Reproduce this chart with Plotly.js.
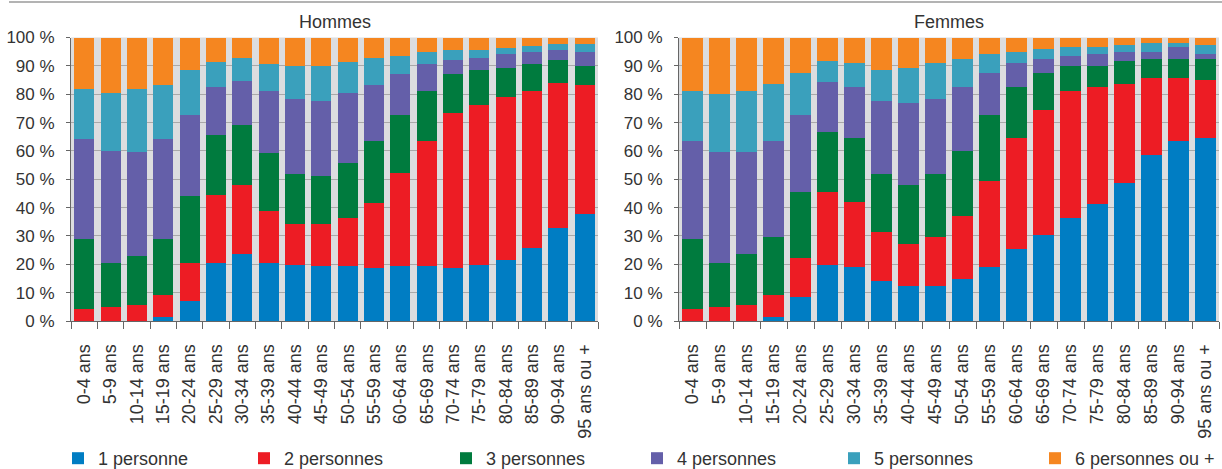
<!DOCTYPE html>
<html>
<head>
<meta charset="utf-8">
<script src="https://cdn.plot.ly/plotly-3.0.1.min.js"></script>
<style>html,body{margin:0;padding:0;background:#fff;}#chart{width:1222px;height:469px;}</style>
</head>
<body>
<div id="chart"></div>
<script>
const categories = ["0-4 ans","5-9 ans","10-14 ans","15-19 ans","20-24 ans","25-29 ans","30-34 ans","35-39 ans","40-44 ans","45-49 ans","50-54 ans","55-59 ans","60-64 ans","65-69 ans","70-74 ans","75-79 ans","80-84 ans","85-89 ans","90-94 ans","95 ans ou +"];
const seriesNames = ["1 personne","2 personnes","3 personnes","4 personnes","5 personnes","6 personnes ou +"];
const yTickVals = [0,10,20,30,40,50,60,70,80,90,100];
const yTickText = ["0 %","10 %","20 %","30 %","40 %","50 %","60 %","70 %","80 %","90 %","100 %"];

// Hommes
const hommes1 = [0,0,0,1.4,7.2,20.6,23.5,20.6,19.9,19.3,19.3,18.6,19.3,19.3,18.6,19.9,21.4,25.7,32.9,37.8];
const hommes2 = [4.2,4.9,5.8,7.9,13.4,23.7,24.3,18.1,14.4,15.0,17.1,22.9,32.8,44.2,54.8,56.4,57.7,55.5,51.1,45.5];
const hommes3 = [24.9,15.5,17.0,19.8,23.6,21.3,21.3,20.4,17.6,16.9,19.2,22.0,20.6,17.7,13.6,12.1,10.0,9.3,7.9,6.5];
const hommes4 = [35.1,39.5,36.9,35.1,28.5,17.0,15.7,22.1,26.5,26.5,24.9,19.8,14.3,9.3,5.0,4.3,5.0,4.4,3.6,5.0];
const hommes5 = [17.7,20.6,22.2,19.1,15.7,8.6,7.9,9.4,11.4,12.1,10.7,9.3,6.4,4.4,3.5,2.8,2.3,2.2,2.3,3.0];
const hommes6 = [18.1,19.5,18.1,16.7,11.6,8.8,7.3,9.4,10.2,10.2,8.8,7.4,6.6,5.1,4.5,4.5,3.6,2.9,2.2,2.2];

// Femmes
const femmes1 = [0,0,0,1.5,8.3,19.8,19.0,14.0,12.4,12.4,14.8,18.9,25.4,30.4,36.3,41.3,48.7,58.6,63.5,64.5];
const femmes2 = [4.1,4.9,5.7,7.6,14.1,25.7,23.1,17.5,14.9,17.3,22.4,30.6,39.1,44.0,44.7,41.2,34.8,27.2,22.3,20.5];
const femmes3 = [24.9,15.5,18.1,20.6,23.1,21.3,22.4,20.3,20.5,22.1,22.9,23.1,17.9,13.2,9.0,7.5,8.2,6.7,6.7,7.5];
const femmes4 = [34.5,39.2,35.8,33.8,27.2,17.4,18.0,25.8,29.0,26.6,22.4,15.0,8.5,4.9,3.3,4.1,3.3,2.5,4.1,1.6];
const femmes5 = [17.5,20.5,21.4,20.0,14.9,7.5,8.4,10.9,12.4,12.5,10.0,6.5,4.1,3.3,3.3,2.5,2.4,3.2,1.6,3.3];
const femmes6 = [19.0,19.9,19.0,16.5,12.4,8.3,9.1,11.5,10.8,9.1,7.5,5.9,5.0,4.2,3.4,3.4,2.6,1.8,1.8,2.6];

const colors = ["#007dc3","#ed1c24","#007b3e","#645fa9","#3aa0bc","#f58620"];

const hommes = [hommes1,hommes2,hommes3,hommes4,hommes5,hommes6];
const femmes = [femmes1,femmes2,femmes3,femmes4,femmes5,femmes6];

const legendIds = ['legend','legend2','legend3','legend4','legend5','legend6'];
const legendLeftPx = [58, 244, 446, 637, 834, 1035];

const traces = [];
hommes.forEach((vals,i)=>{
  traces.push({type:'bar', x:categories, y:vals, name:seriesNames[i], marker:{color:colors[i]}, xaxis:'x', yaxis:'y', legend:legendIds[i], legendgroup:'s'+i, showlegend:true, hoverinfo:'x+y+name'});
});
femmes.forEach((vals,i)=>{
  traces.push({type:'bar', x:categories, y:vals, name:seriesNames[i], marker:{color:colors[i]}, xaxis:'x2', yaxis:'y2', legend:legendIds[i], legendgroup:'s'+i, showlegend:false, hoverinfo:'x+y+name'});
});

const W = 1222, H = 469;
const font = {family:'"Liberation Sans", Arial, sans-serif', size:17, color:'#333333'};
const xBase = {
  type:'category', tickson:'boundaries', ticks:'outside', ticklen:7, tickcolor:'#666',
  showline:true, linecolor:'#666', linewidth:1, tickangle:-90, showgrid:false,
  ticklabelstandoff:15,
  tickfont:{family:font.family, size:18, color:'#333'}, fixedrange:true, automargin:false
};
const yBase = {
  range:[0,100], tickvals:yTickVals, ticktext:yTickText, ticks:'outside', ticklen:4, tickcolor:'#666',
  showline:true, linecolor:'#666', linewidth:1, showgrid:true, gridcolor:'#a9a9a9', gridwidth:1,
  ticklabelstandoff:8,
  zeroline:false, tickfont:{family:font.family, size:17, color:'#333'}, fixedrange:true, automargin:false,
  domain:[(H-321)/H, (H-37.5)/H]
};

const layout = {
  width:W, height:H,
  margin:{l:0,r:0,t:0,b:0, autoexpand:false},
  paper_bgcolor:'#ffffff', plot_bgcolor:'#dcdddf',
  barmode:'stack', bargap:0.24,
  font:font,
  xaxis:Object.assign({}, xBase, {domain:[71/W, 598/W], anchor:'y'}),
  yaxis:Object.assign({}, yBase, {anchor:'x'}),
  xaxis2:Object.assign({}, xBase, {domain:[679/W, 1219/W], anchor:'y2'}),
  yaxis2:Object.assign({}, yBase, {anchor:'x2'}),
  showlegend:true,
  annotations:[
    {text:'Hommes', xref:'paper', yref:'paper', x:(71+598)/2/W, y:(H-22)/H, xanchor:'center', yanchor:'middle', showarrow:false, font:{family:font.family, size:18, color:'#333'}},
    {text:'Femmes', xref:'paper', yref:'paper', x:(679+1219)/2/W, y:(H-22)/H, xanchor:'center', yanchor:'middle', showarrow:false, font:{family:font.family, size:18, color:'#333'}}
  ],
  shapes:[
    {type:'line', xref:'paper', yref:'paper', x0:9/W, x1:1, y0:(H-2)/H, y1:(H-2)/H, line:{color:'#b3b3b3', width:2}}
  ]
};
legendIds.forEach((id,i)=>{
  layout[id] = {orientation:'h', x:legendLeftPx[i]/W, xanchor:'left', y:(H-458.5)/H, yanchor:'middle',
    font:{family:font.family, size:18, color:'#333'}, bgcolor:'rgba(0,0,0,0)', borderwidth:0};
});

Plotly.newPlot('chart', traces, layout, {displayModeBar:false, staticPlot:true});
</script>
</body>
</html>
